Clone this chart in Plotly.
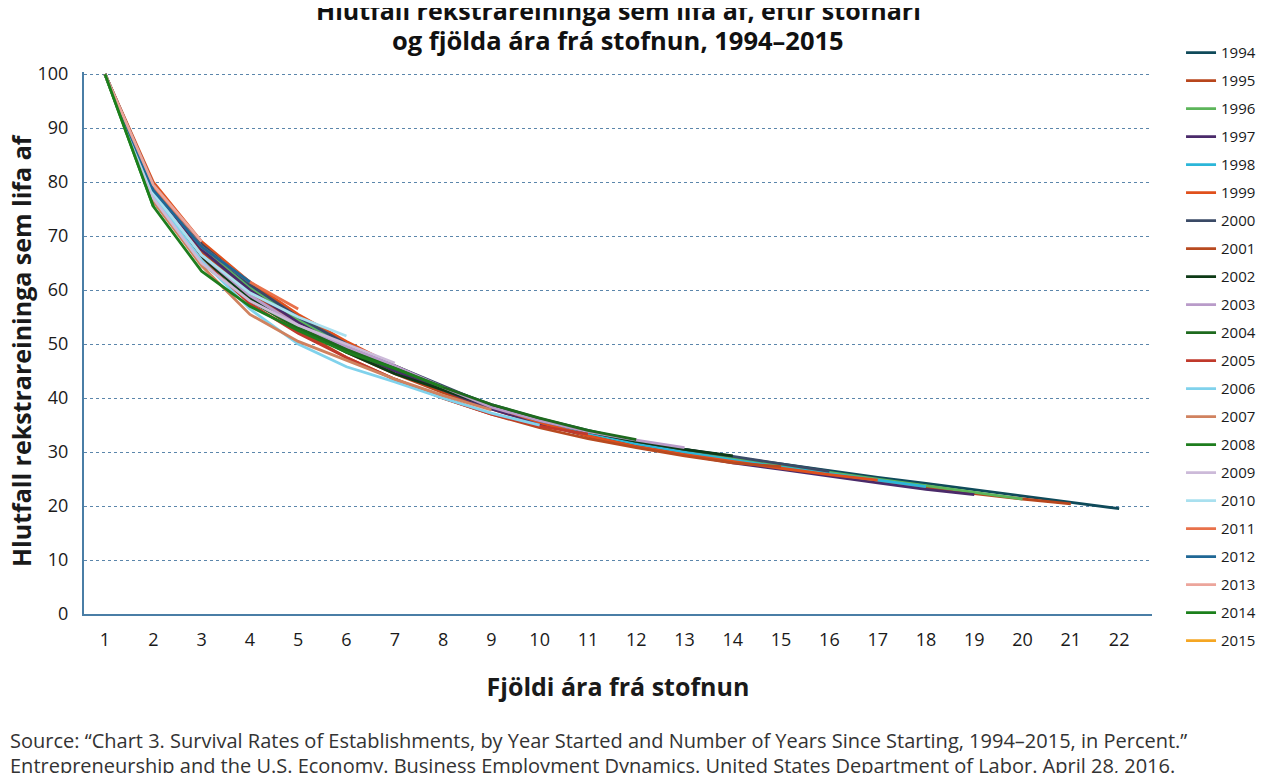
import plotly.graph_objects as go

# Survival share (%) by cohort year and years since starting
years_since = list(range(1, 23))
cohorts = [str(y) for y in range(1994, 2016)]

s1994 = [100, 79.0, 67.5, 60.0, 54.5, 49.5, 45.5, 42.0, 38.8, 36.2, 34.0, 32.0, 30.5, 29.0, 27.8, 26.5, 25.3, 24.2, 23.0, 21.8, 20.6, 19.5]
s1995 = [100, 78.5, 67.0, 59.5, 53.5, 48.5, 44.5, 41.0, 38.0, 35.2, 33.0, 31.2, 29.7, 28.2, 27.0, 25.8, 24.6, 23.4, 22.3, 21.3, 20.4]
s1996 = [100, 79.0, 68.0, 60.5, 54.5, 49.5, 45.5, 42.0, 38.5, 35.8, 33.6, 31.7, 30.2, 28.8, 27.5, 26.2, 25.0, 23.8, 22.6, 21.3]
s1997 = [100, 78.5, 67.5, 60.0, 54.0, 49.0, 45.0, 41.5, 38.0, 35.3, 33.0, 31.0, 29.5, 28.0, 26.8, 25.5, 24.3, 23.1, 22.1]
s1998 = [100, 79.5, 68.5, 61.0, 55.0, 50.0, 46.0, 42.0, 38.5, 35.8, 33.5, 31.5, 30.0, 28.5, 27.2, 26.0, 24.8, 23.6]
s1999 = [100, 80.0, 69.0, 61.5, 55.5, 50.5, 46.0, 42.0, 38.5, 35.5, 33.0, 31.0, 29.5, 28.2, 27.0, 25.8, 24.8]
s2000 = [100, 79.5, 68.5, 61.0, 55.0, 50.0, 46.0, 42.3, 38.5, 35.8, 33.8, 32.0, 30.5, 29.2, 27.8, 26.4]
s2001 = [100, 78.0, 66.5, 58.5, 52.5, 47.5, 43.5, 40.0, 37.0, 34.5, 32.5, 30.8, 29.3, 28.0, 27.3]
s2002 = [100, 77.5, 66.0, 58.5, 53.0, 48.5, 44.5, 41.5, 38.5, 36.0, 33.8, 32.0, 30.5, 29.3]
s2003 = [100, 78.0, 66.5, 59.0, 53.5, 49.5, 46.0, 42.0, 38.3, 35.8, 33.8, 32.2, 30.8]
s2004 = [100, 76.5, 65.0, 58.0, 53.0, 49.0, 45.5, 42.0, 38.8, 36.3, 34.0, 32.3]
s2005 = [100, 77.0, 65.5, 57.5, 52.0, 47.5, 43.5, 40.0, 37.0, 34.8, 33.3]
s2006 = [100, 77.5, 65.5, 56.5, 50.0, 45.8, 43.0, 40.0, 37.2, 35.0]
s2007 = [100, 76.5, 64.5, 55.5, 50.5, 47.0, 43.5, 40.5, 37.8]
s2008 = [100, 75.5, 63.5, 57.0, 52.5, 48.5, 45.5, 42.0]
s2009 = [100, 77.0, 65.0, 58.0, 53.5, 50.0, 46.5]
s2010 = [100, 78.0, 66.5, 59.5, 55.0, 51.5]
s2011 = [100, 79.0, 68.0, 61.5, 56.5]
s2012 = [100, 78.5, 68.0, 61.5]
s2013 = [100, 79.5, 69.0]
s2014 = [100, 75.5]
s2015 = [100]

series = [s1994, s1995, s1996, s1997, s1998, s1999, s2000, s2001, s2002, s2003, s2004,
          s2005, s2006, s2007, s2008, s2009, s2010, s2011, s2012, s2013, s2014, s2015]

colors = ['#0f4a5a', '#b8461c', '#5cb55a', '#4a2a6a', '#2bb6d9', '#e0501c', '#3a4a66',
          '#b84a20', '#0d3a16', '#b99bc9', '#1e6a1e', '#c0392b', '#80d2ec', '#d0825f',
          '#1e7d1e', '#ccbad9', '#a9e0ef', '#e8714a', '#1f6795', '#eca59b', '#1b801b', '#f5a623']

axis_blue = '#4a7ea6'
font_family = 'Open Sans, Noto Sans, sans-serif'

fig = go.Figure()
for name, vals, col in zip(cohorts, series, colors):
    fig.add_trace(go.Scatter(
        x=years_since[:len(vals)],
        y=vals,
        mode='lines',
        name=name,
        legendgroup=name,
        line=dict(color=col, width=2.8),
    ))

# page has an 8px body margin, so the figure is sized to fill the rest
fig.update_layout(
    width=1257,
    height=765,
    plot_bgcolor='white',
    paper_bgcolor='white',
    font=dict(family=font_family, size=18, color='#1a1a1a'),
    margin=dict(l=76, r=113, t=64, b=159, autoexpand=False),
    showlegend=True,
    legend=dict(
        xref='container', yref='container',
        x=0.9332, xanchor='left',
        y=0.963, yanchor='top',
        tracegroupgap=5.5,
        traceorder='grouped',
        maxheight=740,
        font=dict(size=15, color='#1a1a1a'),
        bgcolor='rgba(0,0,0,0)',
    ),
    xaxis=dict(
        range=[0.565, 22.68],
        tickmode='array',
        tickvals=years_since,
        ticktext=[str(v) for v in years_since],
        showgrid=False,
        showline=True,
        linecolor=axis_blue,
        linewidth=2,
        zeroline=False,
        ticks='',
        automargin=False,
        ticklabelstandoff=8,
        tickfont=dict(size=18),
        title=dict(text='<b>Fjöldi ára frá stofnun</b>', font=dict(size=25), standoff=29),
    ),
    yaxis=dict(
        range=[0, 100.4],
        tickvals=[0, 10, 20, 30, 40, 50, 60, 70, 80, 90, 100],
        showgrid=True,
        gridcolor='#5b86ab',
        griddash='dot',
        gridwidth=1,
        showline=True,
        linecolor=axis_blue,
        linewidth=2,
        zeroline=False,
        ticks='',
        automargin=False,
        ticklabelstandoff=10,
        tickfont=dict(size=18),
    ),
    annotations=[
        dict(
            text='<b>Hlutfall rekstrareininga sem lifa af, eftir stofnári</b>',
            xref='paper', yref='paper', x=0.5, y=1.1144,
            xanchor='center', yanchor='middle', showarrow=False,
            font=dict(size=25, color='#111'),
        ),
        dict(
            text='<b>og fjölda ára frá stofnun, 1994–2015</b>',
            xref='paper', yref='paper', x=0.5, y=1.0590,
            xanchor='center', yanchor='middle', showarrow=False,
            font=dict(size=25.5, color='#111'),
        ),
        # y axis title, kept as far left as the page allows
        dict(
            text='<b>Hlutfall rekstrareininga sem lifa af</b>',
            xref='paper', yref='paper', x=-0.059, y=0.487,
            xanchor='center', yanchor='middle', textangle=-90, showarrow=False,
            font=dict(size=25, color='#1a1a1a'),
        ),
        dict(
            text='Source: “Chart 3. Survival Rates of Establishments, by Year Started and Number of Years Since Starting, 1994–2015, in Percent.”',
            xref='paper', yref='paper', x=-0.0712, y=-0.2343,
            xanchor='left', yanchor='middle', showarrow=False,
            font=dict(size=20, color='#333'),
        ),
        dict(
            text='Entrepreneurship and the U.S. Economy. Business Employment Dynamics. United States Department of Labor. April 28, 2016.',
            xref='paper', yref='paper', x=-0.0712, y=-0.2804,
            xanchor='left', yanchor='middle', showarrow=False,
            font=dict(size=20, color='#333'),
        ),
    ],
)

fig.write_html('out.html')
